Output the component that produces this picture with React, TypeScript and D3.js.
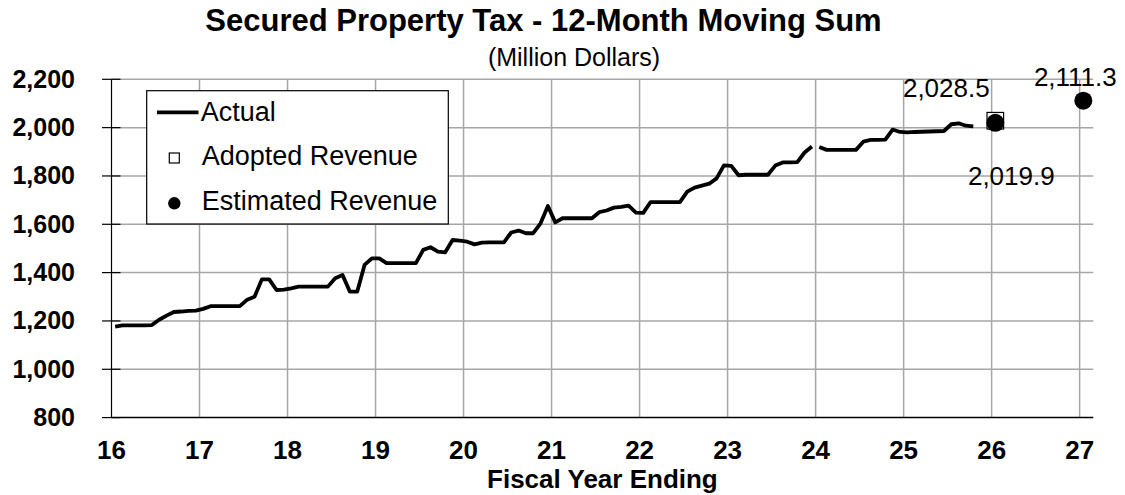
import React from "react";
import * as d3 from "d3";

// Monthly 12-month moving sum of secured property tax (million $), by fiscal year
const fy16 = [1177, 1182, 1182, 1182, 1182, 1183, 1205, 1222, 1237, 1239, 1242, 1243];
const fy17 = [1250, 1261, 1261, 1261, 1261, 1261, 1288, 1300, 1372, 1372, 1328, 1330];
const fy18 = [1335, 1342, 1342, 1342, 1342, 1342, 1377, 1390, 1321, 1321, 1432, 1459];
const fy19 = [1459, 1439, 1439, 1439, 1439, 1439, 1494, 1505, 1487, 1484, 1535, 1532];
const fy20 = [1528, 1517, 1524, 1525, 1525, 1525, 1566, 1574, 1563, 1563, 1604, 1676];
const fy21 = [1608, 1625, 1625, 1625, 1625, 1625, 1650, 1657, 1669, 1672, 1677, 1648];
const fy22 = [1647, 1692, 1692, 1692, 1692, 1692, 1735, 1752, 1760, 1768, 1790, 1844];
const fy23 = [1842, 1803, 1805, 1805, 1805, 1805, 1843, 1856, 1856, 1857, 1897, 1922];
const fy24 = [1920, 1908, 1908, 1908, 1908, 1908, 1942, 1949, 1949, 1950, 1992, 1982];
const fy25 = [1980, 1982, 1983, 1984, 1985, 1986, 2014, 2018, 2008, 2005];

// The actual line is drawn in two pieces (break between FY23 and FY24)
const actualSegments = [
  [ { fy: 16, values: fy16 }, { fy: 17, values: fy17 }, { fy: 18, values: fy18 }, { fy: 19, values: fy19 },
    { fy: 20, values: fy20 }, { fy: 21, values: fy21 }, { fy: 22, values: fy22 }, { fy: 23, values: fy23 } ],
  [ { fy: 24, values: fy24 }, { fy: 25, values: fy25 } ],
];

const adoptedRevenue = [{ fy: 26, value: 2028.5, label: "2,028.5" }];
const estimatedRevenue = [
  { fy: 26, value: 2019.9, label: "2,019.9" },
  { fy: 27, value: 2111.3, label: "2,111.3" },
];

const xTicks = [16, 17, 18, 19, 20, 21, 22, 23, 24, 25, 26, 27];
const yTicks = [800, 1000, 1200, 1400, 1600, 1800, 2000, 2200];

const title = "Secured Property Tax - 12-Month Moving Sum";
const subtitle = "(Million Dollars)";
const xTitle = "Fiscal Year Ending";
const legendLabels = ["Actual", "Adopted Revenue", "Estimated Revenue"];

const FONT = "'Liberation Sans', Arial, Helvetica, sans-serif";

export default function App() {
  const W = 1125, H = 495;
  const x = d3.scaleLinear().domain([16, 27.155]).range([111.5, 1093.3]);
  const y = d3.scaleLinear().domain([800, 2200]).range([417.6, 79.3]);
  const monthX = (fy: number, k: number) => fy + (k + 0.5) / 12;

  const line = d3
    .line<{ t: number; v: number }>()
    .x((d) => x(d.t))
    .y((d) => y(d.v));

  const segPaths = actualSegments.map((seg) => {
    const pts: { t: number; v: number }[] = [];
    seg.forEach((yr) => yr.values.forEach((v, k) => pts.push({ t: monthX(yr.fy, k), v })));
    return line(pts) || "";
  });

  const fmt = d3.format(",");
  const [x0, x1] = x.range();
  const [yBottom, yTop] = y.range();

  return (
    <svg
      width={W}
      height={H}
      style={{ position: "absolute", left: 0, top: 0, background: "#fff" }}
      fontFamily={FONT}
    >
      <rect x={0} y={0} width={W} height={H} fill="#fff" />
      {/* horizontal gridlines */}
      {yTicks.filter((t) => t !== 800).map((t) => (
        <line key={"hg" + t} x1={x0} x2={x1} y1={y(t)} y2={y(t)} stroke="#a6a6a6" strokeWidth={1.5} />
      ))}
      {/* vertical gridlines */}
      {xTicks.filter((t) => t !== 16).map((t) => (
        <line key={"vg" + t} x1={x(t)} x2={x(t)} y1={yTop} y2={yBottom} stroke="#a6a6a6" strokeWidth={1.5} />
      ))}
      {/* y axis */}
      <line x1={x0} x2={x0} y1={yTop} y2={yBottom} stroke="#000" strokeWidth={1.2} />
      {yTicks.map((t) => (
        <g key={"yt" + t}>
          <line x1={x0 - 9.5} x2={x0 + 9} y1={y(t)} y2={y(t)} stroke="#000" strokeWidth={1.2} />
          <text x={75} y={y(t) + 8.5} textAnchor="end" fontSize={25} fontWeight="bold" fill="#000">
            {fmt(t)}
          </text>
        </g>
      ))}
      {/* x axis */}
      <line x1={x0} x2={x1} y1={yBottom} y2={yBottom} stroke="#000" strokeWidth={1.5} />
      {xTicks.map((t) => (
        <text key={"xt" + t} x={x(t)} y={459} textAnchor="middle" fontSize={26} fontWeight="bold" fill="#000">
          {t}
        </text>
      ))}
      <text x={(x0 + x1) / 2} y={487.5} textAnchor="middle" fontSize={26} fontWeight="bold" fill="#000">
        {xTitle}
      </text>

      {/* title */}
      <text x={543.5} y={31} textAnchor="middle" fontSize={31} fontWeight="bold" fill="#000">
        {title}
      </text>
      <text x={574} y={66} textAnchor="middle" fontSize={25} fill="#000">
        {subtitle}
      </text>

      {/* actual line */}
      {segPaths.map((p, i) => (
        <path key={"seg" + i} d={p} fill="none" stroke="#000" strokeWidth={3.8} strokeLinejoin="round" />
      ))}

      {/* adopted revenue squares */}
      {adoptedRevenue.map((d) => (
        <g key={"ad" + d.fy}>
          <rect
            x={x(monthX(d.fy, 0)) - 8.3}
            y={y(d.value) - 8.3}
            width={16.6}
            height={16.6}
            fill="#fff"
            stroke="#000"
            strokeWidth={1.2}
          />
          <text x={x(monthX(d.fy, 0)) - 49} y={y(d.value) - 24} textAnchor="middle" fontSize={26} fill="#000">
            {d.label}
          </text>
        </g>
      ))}
      {/* estimated revenue circles */}
      {estimatedRevenue.map((d, i) => (
        <g key={"es" + d.fy}>
          <circle cx={x(monthX(d.fy, 0))} cy={y(d.value)} r={9} fill="#000" />
          <text
            x={x(monthX(d.fy, 0)) + (i === 0 ? 16 : -8)}
            y={y(d.value) + (i === 0 ? 62 : -15)}
            textAnchor="middle"
            fontSize={26}
            fill="#000"
          >
            {d.label}
          </text>
        </g>
      ))}

      {/* legend */}
      <rect x={146.7} y={90.7} width={301.6} height={133.3} fill="#fff" stroke="#000" strokeWidth={1.2} />
      <line x1={157} x2={198.5} y1={112.3} y2={112.3} stroke="#000" strokeWidth={3.8} />
      <text x={200.7} y={120.7} fontSize={27} fill="#000">{legendLabels[0]}</text>
      <rect x={169.3} y={153} width={10} height={10} fill="#fff" stroke="#000" strokeWidth={1.2} />
      <text x={201.7} y={165} fontSize={27} fill="#000">{legendLabels[1]}</text>
      <circle cx={174.3} cy={203.3} r={6.2} fill="#000" />
      <text x={201.7} y={210} fontSize={27} fill="#000">{legendLabels[2]}</text>
    </svg>
  );
}
